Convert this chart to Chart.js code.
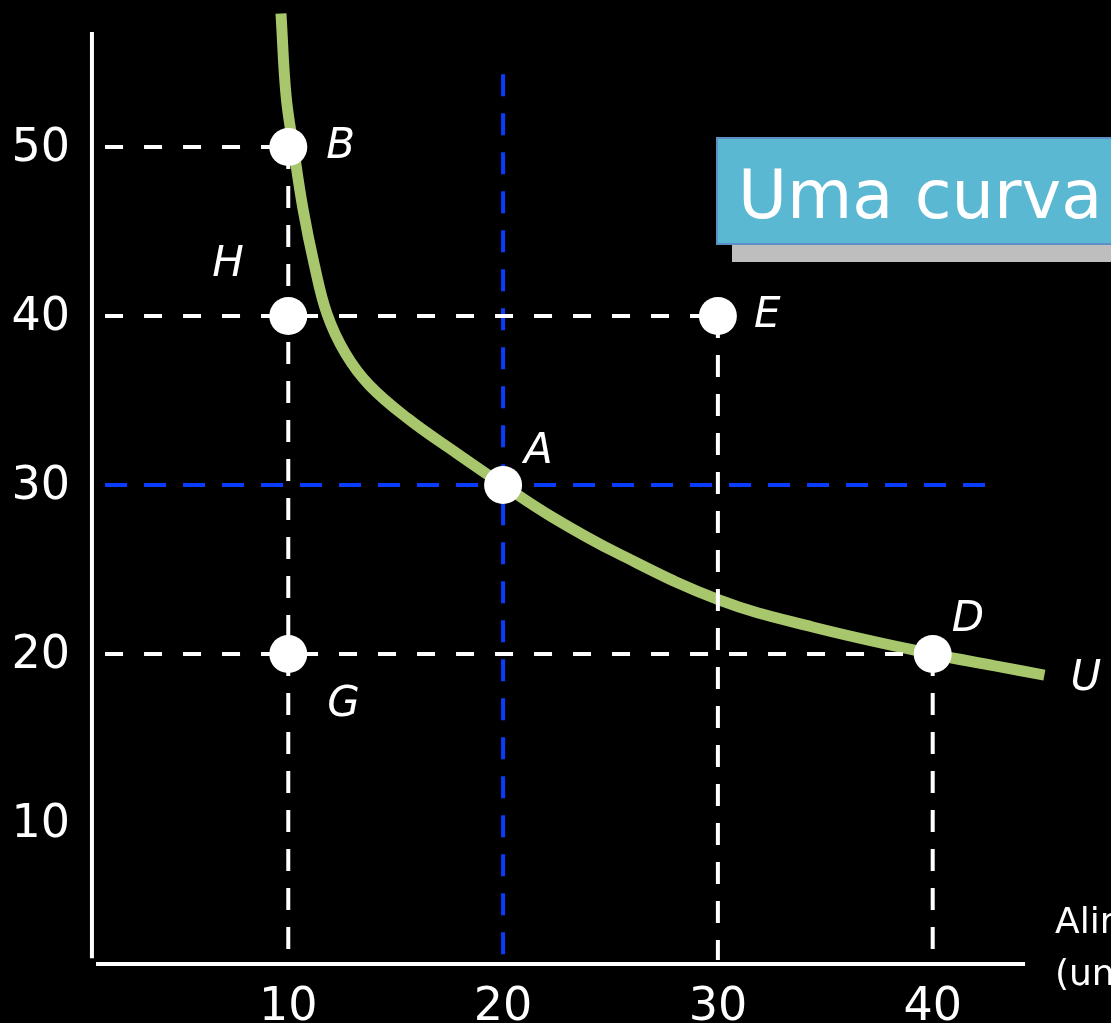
<!DOCTYPE html>
<html>
<head>
<meta charset="utf-8">
<script src="https://cdn.jsdelivr.net/npm/chart.js@4.4.0/dist/chart.umd.min.js"></script>
<style>
  html, body { margin: 0; padding: 0; background: #000; }
  #wrap { width: 1111px; height: 1023px; position: relative; }
</style>
</head>
<body>
<div id="wrap"><canvas id="chart"></canvas></div>
<script>
// data
const curveX = [9.66, 9.90, 10.25, 10.69, 11.2, 11.81, 12.65, 13.77, 15.59, 17.84, 20, 22.28, 25.3, 30.05, 34.41, 40, 42.9, 45.2]
const curveY = [57.9, 53.0, 49.9, 46.3, 43.1, 40.1, 37.81, 35.91, 33.91, 31.88, 30, 28.11, 25.98, 23.2, 21.6, 20, 19.3, 18.75]

const pointNames = ['B', 'H', 'E', 'A', 'D', 'G']
const pointX     = [10, 10, 30, 20, 40, 10]
const pointY     = [50, 40, 40, 30, 20, 20]

const xTicks = [10, 20, 30, 40]
const yTicks = [10, 20, 30, 40, 50]

const whiteGuides = ['B', 'E', 'D']   // dashed lines to both axes
const blueGuide   = 'A'

const titleText = 'Uma curva de indiferença'
const xTitle    = ['Alimento', '(unidades por semana)']
const curveName = 'U'

/*** helpers ****************************************************************/
const pt = (name) => {
    const i = pointNames.indexOf(name)
    return { x: pointX[i], y: pointY[i] }
}
const GUIDE_X0 = 1.47   // where the dashes start near the y axis
const GUIDE_Y0 = 1.9    // where the dashes stop near the x axis

let datasets = []

// markers (on top)
datasets.push({
    data: pointNames.map((n, i) => ({ x: pointX[i], y: pointY[i] })),
    showLine: false,
    pointRadius: 19,
    pointHoverRadius: 19,
    pointBackgroundColor: '#ffffff',
    pointBorderWidth: 0,
})

// white guides
whiteGuides.forEach((n) => {
    const p = pt(n)
    const style = { showLine: true, pointRadius: 0, borderColor: '#ffffff', borderWidth: 4, fill: false }
    datasets.push(Object.assign({ data: [{ x: GUIDE_X0, y: p.y }, { x: p.x, y: p.y }], borderDash: [18, 21] }, style))
    datasets.push(Object.assign({ data: [{ x: p.x, y: p.y }, { x: p.x, y: GUIDE_Y0 }], borderDash: [22, 17] }, style))
})

// blue guides through A
const a = pt(blueGuide)
const blueStyle = { showLine: true, pointRadius: 0, borderColor: '#0a3cff', borderWidth: 4, fill: false }
datasets.push(Object.assign({ data: [{ x: GUIDE_X0, y: a.y }, { x: 42.7, y: a.y }], borderDash: [22, 17] }, blueStyle))
datasets.push(Object.assign({ data: [{ x: a.x, y: 54.3 }, { x: a.x, y: 1.6 }], borderDash: [22, 17] }, blueStyle))

// indifference curve
datasets.push({
    data: curveX.map((x, i) => ({ x: x, y: curveY[i] })),
    showLine: true,
    pointRadius: 0,
    borderColor: '#a8c66b',
    borderWidth: 11,
    tension: 0.4,
    borderCapStyle: 'butt',
    borderJoinStyle: 'round',
    fill: false,
})

//-------------
//- DECORATION -
//-------------
const labelOffsets = {
    B: [38, 0], H: [-76, -51], E: [36, 0], A: [21, -33], D: [19, -34], G: [39, 51]
}

const decoPlugin = {
    id: 'deco',
    beforeDatasetsDraw(chart) {
        const ctx = chart.ctx
        const xs = chart.scales.x, ys = chart.scales.y
        ctx.save()
        ctx.strokeStyle = '#ffffff'
        ctx.lineWidth = 4
        // y axis
        ctx.beginPath()
        ctx.moveTo(xs.getPixelForValue(0.86), ys.getPixelForValue(56.8))
        ctx.lineTo(xs.getPixelForValue(0.86), ys.getPixelForValue(2.0))
        ctx.stroke()
        // x axis
        ctx.beginPath()
        ctx.moveTo(xs.getPixelForValue(1.05), ys.getPixelForValue(1.66))
        ctx.lineTo(xs.getPixelForValue(44.3), ys.getPixelForValue(1.66))
        ctx.stroke()

        ctx.fillStyle = '#ffffff'
        ctx.font = '46px "DejaVu Sans"'
        ctx.textAlign = 'right'
        ctx.textBaseline = 'middle'
        yTicks.forEach((v) => {
            ctx.fillText(String(v), xs.getPixelForValue(0.86) - 22, ys.getPixelForValue(v) + 2)
        })
        ctx.textAlign = 'center'
        ctx.textBaseline = 'alphabetic'
        xTicks.forEach((v) => {
            ctx.fillText(String(v), xs.getPixelForValue(v), 1020)
        })
        ctx.restore()
    },
    afterDraw(chart) {
        const ctx = chart.ctx
        const xs = chart.scales.x, ys = chart.scales.y
        ctx.save()
        ctx.fillStyle = '#ffffff'
        ctx.font = 'italic 42px "DejaVu Sans"'
        ctx.textAlign = 'left'
        ctx.textBaseline = 'middle'
        pointNames.forEach((n, i) => {
            const o = labelOffsets[n]
            ctx.fillText(n, xs.getPixelForValue(pointX[i]) + o[0], ys.getPixelForValue(pointY[i]) + o[1])
        })
        const last = curveX.length - 1
        ctx.fillText(curveName, xs.getPixelForValue(curveX[last]) + 26, ys.getPixelForValue(curveY[last]) + 4)

        // axis title (cut by the edge)
        ctx.font = '36px "DejaVu Sans"'
        ctx.textBaseline = 'alphabetic'
        ctx.fillText(xTitle[0], 1055, 933)
        ctx.fillText(xTitle[1], 1055, 985)

        // title box
        ctx.fillStyle = '#bebebe'
        ctx.fillRect(732, 150, 400, 112)
        ctx.fillStyle = '#5bb8d2'
        ctx.fillRect(717, 138, 420, 106)
        ctx.strokeStyle = '#5a8fc8'
        ctx.lineWidth = 2
        ctx.strokeRect(717, 138, 420, 106)
        ctx.fillStyle = '#ffffff'
        ctx.font = '67px "DejaVu Sans"'
        ctx.fillText(titleText, 738, 218)
        ctx.restore()
    }
}

const ctx = document.getElementById('chart').getContext('2d')
new Chart(ctx, {
    type: 'scatter',
    data: { datasets: datasets },
    options: {
        responsive: true,
        maintainAspectRatio: false,
        animation: false,
        layout: { padding: 0, autoPadding: false },
        plugins: { legend: { display: false }, tooltip: { enabled: false } },
        scales: {
            x: { type: 'linear', display: false, min: -3.42, max: 48.30 },
            y: { type: 'linear', display: false, min: -1.834, max: 58.698 },
        },
    },
    plugins: [decoPlugin]
})
</script>
</body>
</html>
